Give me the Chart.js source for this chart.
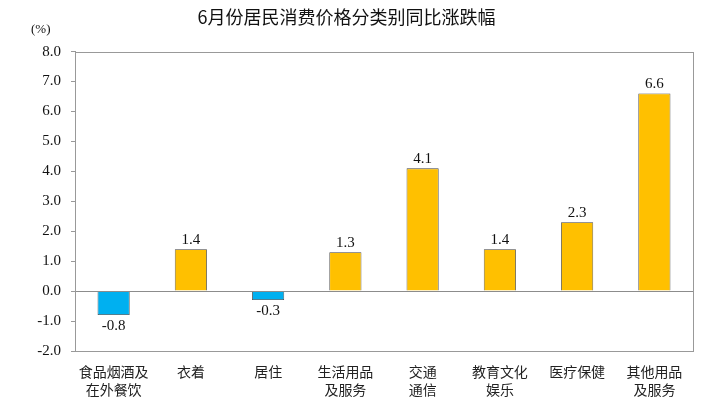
<!DOCTYPE html>
<html>
<head>
<meta charset="utf-8">
<script src="https://cdn.jsdelivr.net/npm/chart.js@4.4.1/dist/chart.umd.min.js"></script>
<style>
  html, body { margin: 0; padding: 0; background: #fff; }
  #wrap { width: 720px; height: 405px; position: relative; }
</style>
</head>
<body>
<div id="wrap"><canvas id="cpiChart" width="720" height="405"></canvas></div>
<script>
// 분류별 데이터
const categories = [
  ['食品烟酒及', '在外餐饮'],
  '衣着',
  '居住',
  ['生活用品', '及服务'],
  ['交通', '通信'],
  ['教育文化', '娱乐'],
  '医疗保健',
  ['其他用品', '及服务']
];
const values = [-0.8, 1.4, -0.3, 1.3, 4.1, 1.4, 2.3, 6.6];
const yTicks = [-2, -1, 0, 1, 2, 3, 4, 5, 6, 7, 8];

const serif = '"Liberation Serif", "Times New Roman", serif';
const cjk = '"Noto Sans CJK SC", sans-serif';

// 데이터 라벨 + 테두리 + 0선
const extras = {
  id: 'extras',
  afterDatasetsDraw(chart) {
    const ctx = chart.ctx;
    const area = chart.chartArea;
    const y = chart.scales.y;
    ctx.save();
    // 0 line
    ctx.strokeStyle = '#8c8c8c';
    ctx.lineWidth = 1;
    const y0 = Math.round(y.getPixelForValue(0)) + 0.5;
    ctx.beginPath();
    ctx.moveTo(area.left, y0);
    ctx.lineTo(area.right, y0);
    ctx.stroke();
    // border box
    ctx.strokeStyle = '#999';
    ctx.strokeRect(Math.round(area.left) + 0.5, Math.round(area.top) + 0.5,
      Math.round(area.right - area.left), Math.round(area.bottom - area.top));
    // labels
    ctx.fillStyle = '#111';
    ctx.font = '15px ' + serif;
    ctx.textAlign = 'center';
    chart.getDatasetMeta(0).data.forEach((bar, i) => {
      const v = values[i];
      if (v >= 0) {
        ctx.textBaseline = 'bottom';
        ctx.fillText(v.toFixed(1), bar.x, bar.y - 2);
      } else {
        ctx.textBaseline = 'top';
        ctx.fillText(v.toFixed(1), bar.x, bar.y + 3);
      }
    });
    // unit
    ctx.font = '13px ' + serif;
    ctx.textAlign = 'left';
    ctx.textBaseline = 'middle';
    ctx.fillText('(%)', 31, 30);
    ctx.restore();
  }
};

const ctx = document.getElementById('cpiChart');

new Chart(ctx, {
  type: 'bar',
  data: {
    labels: categories,
    datasets: [{
      data: values,
      backgroundColor: values.map(v => v < 0 ? '#00b0f0' : '#ffc000'),
      borderColor: '#404040',
      borderWidth: 0.8,
      categoryPercentage: 0.8,
      barPercentage: 0.52
    }]
  },
  options: {
    responsive: false,
    animation: false,
    layout: { padding: { left: 0, right: 27, top: 0, bottom: 0 } },
    plugins: {
      legend: { display: false },
      tooltip: { enabled: false },
      title: {
        display: true,
        text: '6月份居民消费价格分类别同比涨跌幅',
        color: '#111',
        font: { family: cjk, size: 18, weight: 'normal' },
        padding: { top: 6, bottom: 24 }
      }
    },
    scales: {
      y: {
        min: -2,
        max: 8,
        afterBuildTicks(scale) { scale.ticks = yTicks.map(v => ({ value: v })); },
        afterFit(scale) { scale.width = 75; },
        grid: { drawOnChartArea: false, drawTicks: true, tickLength: 4, color: '#999' },
        border: { color: '#999' },
        ticks: {
          color: '#111',
          padding: 10,
          font: { family: serif, size: 15 },
          callback: v => Number(v).toFixed(1)
        }
      },
      x: {
        grid: { display: false },
        border: { color: '#999' },
        afterFit(scale) { scale.height = 54; },
        ticks: {
          color: '#222',
          maxRotation: 0,
          autoSkip: false,
          padding: 4,
          font: { family: cjk, size: 14, lineHeight: 1.25 }
        }
      }
    }
  },
  plugins: [extras]
});
</script>
</body>
</html>
